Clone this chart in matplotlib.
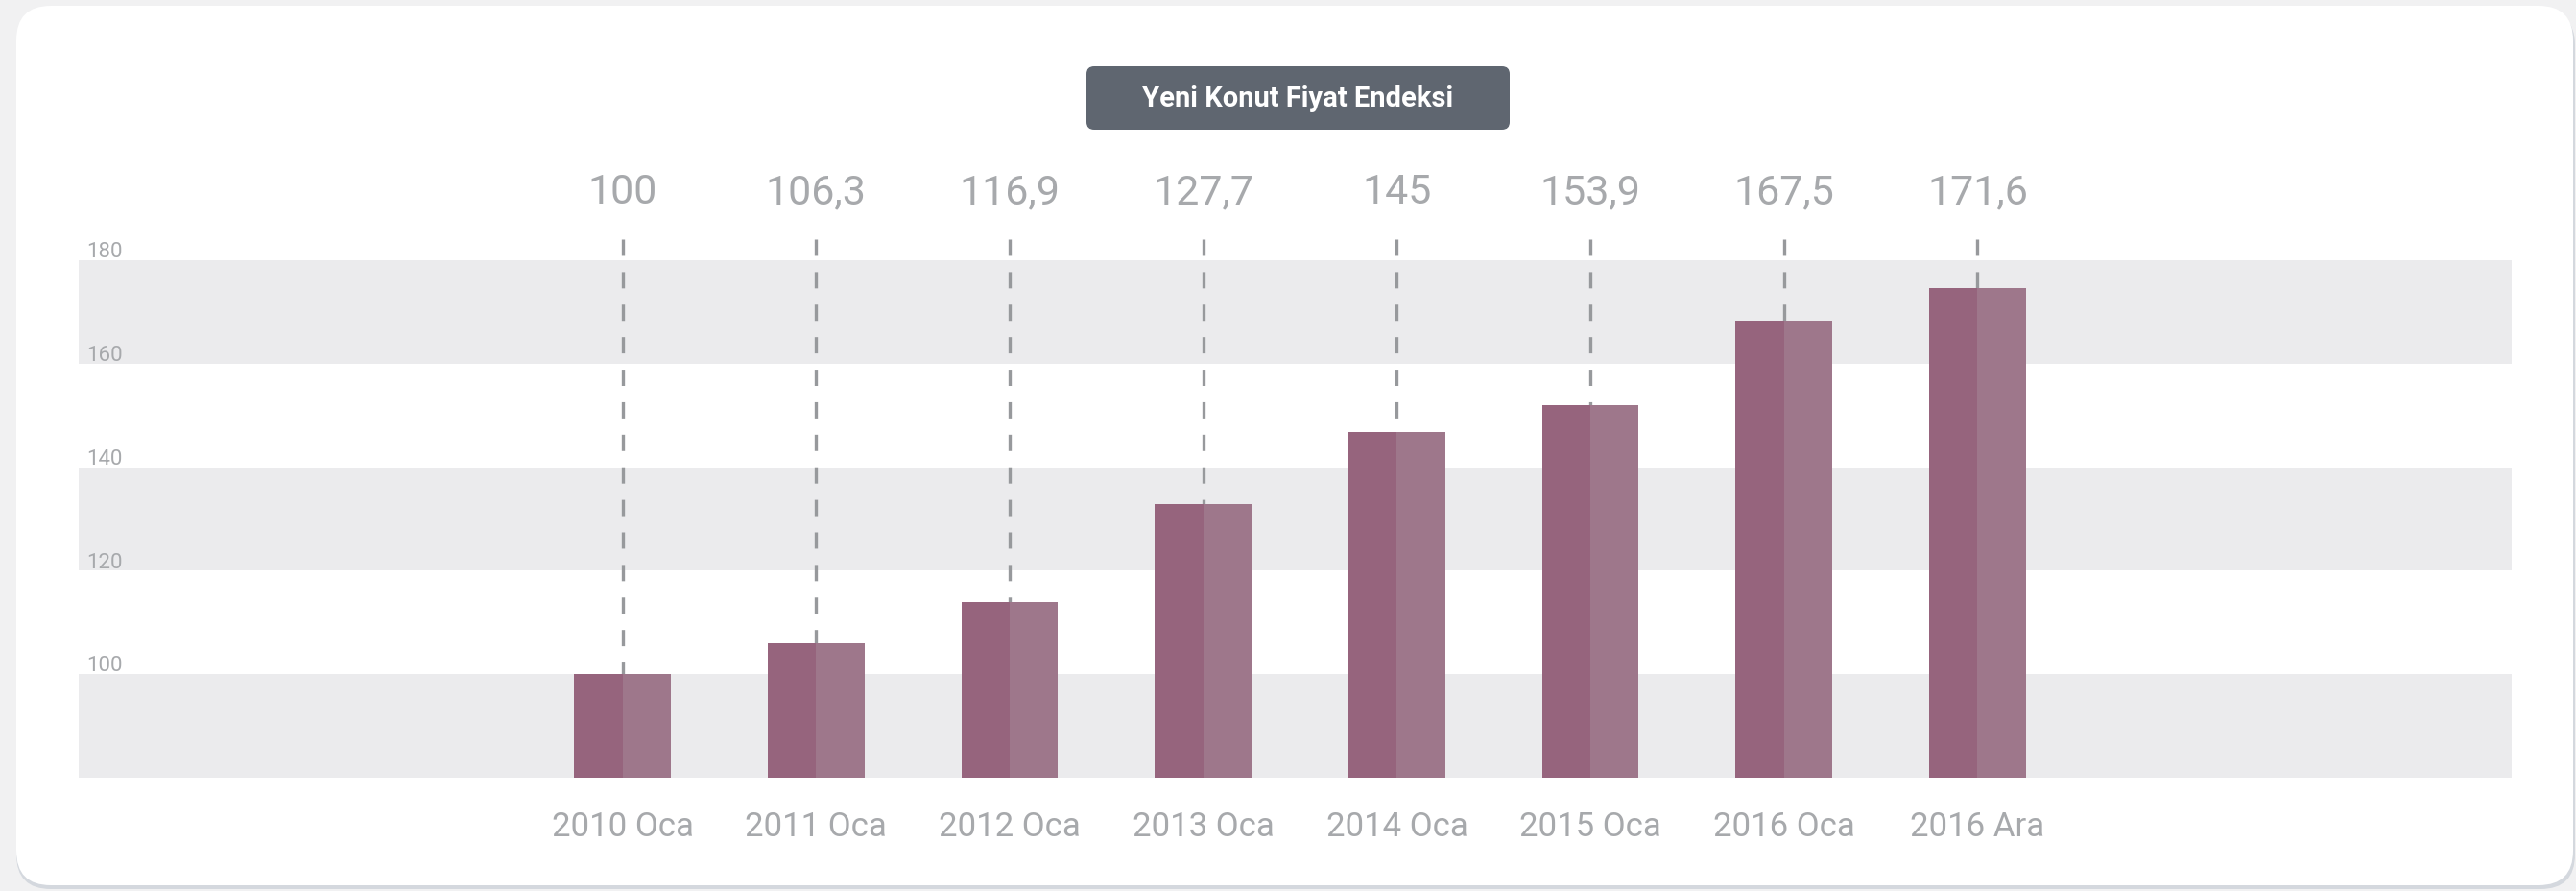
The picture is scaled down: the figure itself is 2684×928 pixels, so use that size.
import matplotlib
matplotlib.use('Agg')
import matplotlib.pyplot as plt
from matplotlib.patches import FancyBboxPatch
from matplotlib.transforms import blended_transform_factory

# data
categories = ['2010 Oca', '2011 Oca', '2012 Oca', '2013 Oca',
              '2014 Oca', '2015 Oca', '2016 Oca', '2016 Ara']
value_labels = ['100', '106,3', '116,9', '127,7', '145', '153,9', '167,5', '171,6']
bar_heights = [100.1, 106.0, 114.0, 132.9, 146.8, 152.0, 168.4, 174.6]
y_ticks = [100, 120, 140, 160, 180]
title = 'Yeni Konut Fiyat Endeksi'

plt.rcParams['font.family'] = ['Roboto', 'DejaVu Sans']
plt.rcParams['lines.scale_dashes'] = False

W, H = 2684, 929
fig = plt.figure(figsize=(W / 100, H / 100), dpi=100, facecolor='#f1f1f2')

# background layer: card + title box, in pixel units
bg = fig.add_axes([0, 0, 1, 1], zorder=0)
bg.set_xlim(0, W)
bg.set_ylim(0, H)
bg.axis('off')
bg.add_patch(FancyBboxPatch((17, 2), 2666, H - 14, boxstyle='round,pad=0,rounding_size=36',
                            fc='#d4d8de', ec='none'))
bg.add_patch(FancyBboxPatch((17, 6), 2664, H - 13, boxstyle='round,pad=0,rounding_size=36',
                            fc='white', ec='none'))
bg.add_patch(FancyBboxPatch((1132, H - 136), 441, 66, boxstyle='round,pad=0,rounding_size=8',
                            fc='#5f6670', ec='none'))
bg.text(1352, H - 103, title, color='white', fontsize=21, fontweight='bold',
        ha='center', va='center')

# main chart
ax = fig.add_axes([82 / W, (H - 811) / H, (2617 - 82) / W, (811 - 272) / H], zorder=1)
ax.set_facecolor('none')
ax.set_xlim(-2.81, 9.76)
ax.set_ylim(80, 180)
for s in ax.spines.values():
    s.set_visible(False)
ax.set_xticks([])
ax.set_yticks([])

band_col = '#ebebed'
for lo in (80, 120, 160):
    ax.axhspan(lo, lo + 20, color=band_col, lw=0, zorder=0)

x = list(range(len(categories)))
ax.bar(x, bar_heights, width=-0.25, align='edge', color='#96647d', lw=0, zorder=2)
ax.bar(x, bar_heights, width=0.25, align='edge', color='#9e778b', lw=0, zorder=2)

# dashed drop lines from the value labels down to the bar tops
for xi, h in zip(x, bar_heights):
    ax.plot([xi, xi], [184.1, h], color='#97999c', lw=2.4, dashes=(12.2, 12.2),
            clip_on=False, zorder=1, solid_capstyle='butt', dash_capstyle='butt')

trans = blended_transform_factory(ax.transData, fig.transFigure)
for xi, lab in zip(x, value_labels):
    ax.text(xi, (H - 212) / H, lab, transform=trans, ha='center', va='baseline',
            fontsize=31, color='#a7a9ac', clip_on=False)
for xi, lab in zip(x, categories):
    ax.text(xi, (H - 871) / H, lab, transform=trans, ha='center', va='baseline',
            fontsize=25, color='#a7a9ac', clip_on=False)

trans_y = blended_transform_factory(fig.transFigure, ax.transData)
for t in y_ticks:
    ax.text(90 / W, t + 0.7, str(t), transform=trans_y, ha='left', va='baseline',
            fontsize=16, color='#a7a9ac', clip_on=False)

fig.savefig('out.png', dpi=100, facecolor=fig.get_facecolor())
